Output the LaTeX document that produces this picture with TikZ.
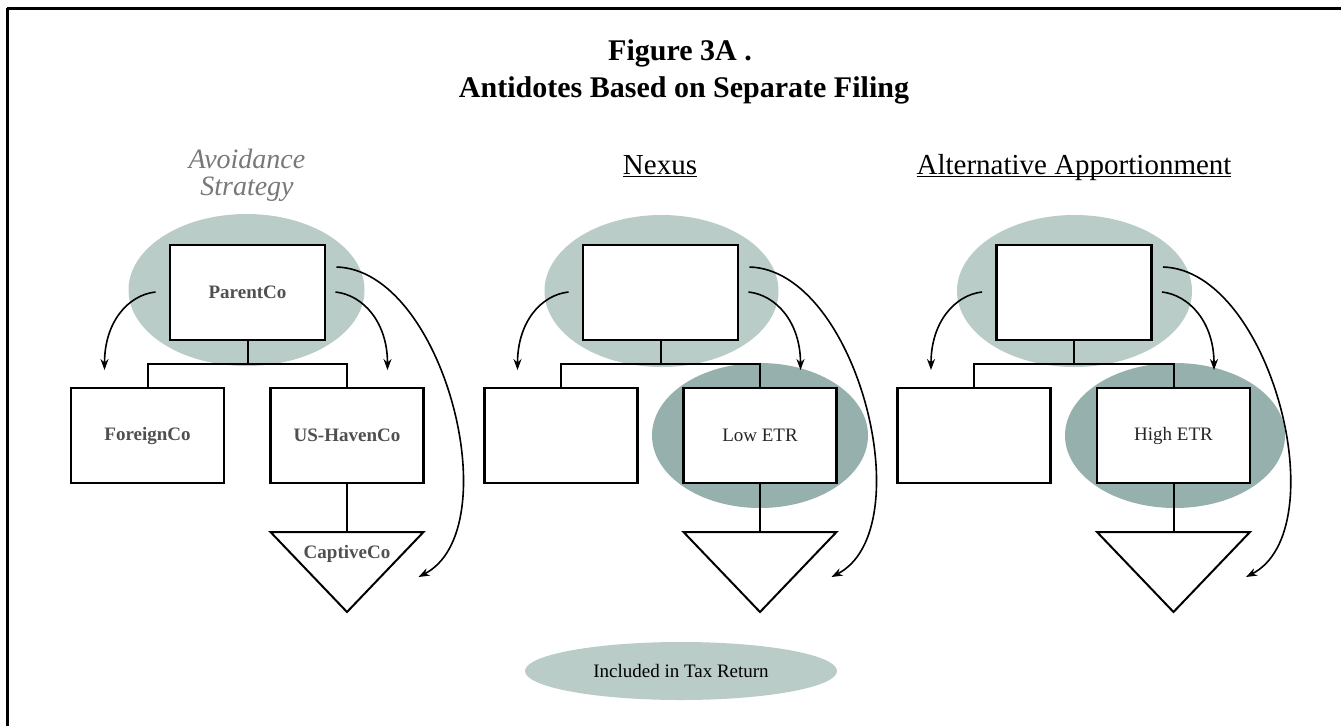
\documentclass[tikz,border=0pt]{standalone}
\usepackage{fontspec}
\setmainfont{Liberation Serif}
\usetikzlibrary{arrows.meta,shapes.geometric}
\definecolor{incl}{RGB}{186,204,199}
\definecolor{incldark}{RGB}{150,177,173}
\definecolor{lbl}{RGB}{80,80,80}
\definecolor{hdr}{RGB}{120,120,120}
\newcommand{\myul}[1]{\setbox0\hbox{#1}\rlap{\rule[-3pt]{\wd0}{1.5pt}}\box0}
\begin{document}
\begin{tikzpicture}[x=1pt,y=-1pt,
  frame/.style={line width=3pt, black},
  incl/.style={ellipse, fill=incl, inner sep=0pt},
  incldk/.style={ellipse, fill=incldark, inner sep=0pt},
  ent/.style={draw=black, line width=2.2pt, fill=white, minimum width=153pt, minimum height=95pt, inner sep=0pt, font=\fontsize{19}{22}\selectfont\bfseries, text=lbl},
  own/.style={draw=black, line width=2pt},
  tri/.style={draw=black, line width=2pt, fill=white},
  flow/.style={draw=black, line width=1.6pt, -{Stealth[length=11pt,width=8pt]}},
  head/.style={font=\fontsize{29}{32}\selectfont, anchor=base},
  avoid/.style={font=\fontsize{28}{30}\selectfont\itshape, text=hdr, anchor=base},
  ttl/.style={font=\fontsize{30}{34}\selectfont\bfseries, anchor=base}
]
\useasboundingbox (0,0) rectangle (1341,726);
\fill[white] (0,0) rectangle (1341,726);
% frame
\draw[frame] (7,8) -- (1341,8);
\draw[frame] (7,8) -- (7,726);

% titles
\node[ttl] (t1) at (680,60) {Figure 3A .};
\node[ttl] (t2) at (684,97) {Antidotes Based on Separate Filing};

% headers
\node[avoid] (hA1) at (247,168) {Avoidance};
\node[avoid] (hA2) at (247,195) {Strategy};
\node[head] (hB) at (660,174) {\myul{Nexus}};
\node[head] (hC) at (1074,174) {\myul{Alternative Apportionment}};

% inclusion ellipses
\node[incl, minimum width=236pt, minimum height=152pt] (eA) at (246.5,290) {};
\node[incl, minimum width=234pt, minimum height=152pt] (eB) at (661.5,291) {};
\node[incl, minimum width=235pt, minimum height=152pt] (eC) at (1074.5,291) {};
\node[incldk, minimum width=216pt, minimum height=145pt] (dB) at (760,435.5) {};
\node[incldk, minimum width=220pt, minimum height=145pt] (dC) at (1175,435.5) {};

% ===== Column A =====
\node[ent, minimum width=155pt] (pA) at (247.5,292.5) {ParentCo};
\node[ent] (fA) at (147.5,435.5) {ForeignCo};
\node[ent] (uA) at (347,435.5) {US-HavenCo};
\draw[own] (pA.south) -- ++(0,23) -| (fA.north);
\draw[own] (pA.south) -- ++(0,23) -| (uA.north);
\coordinate (tAa) at (270.5,532);
\coordinate (tAb) at (423.5,532);
\coordinate (tAc) at (347,612);
\draw[tri] (tAa) -- (tAb) -- (tAc) -- cycle;
\coordinate (tAn) at (347,532);
\draw[own] (uA.south) -- (tAn);
\node[font=\fontsize{19}{22}\selectfont\bfseries, text=lbl, anchor=base] (cA) at (347,558) {CaptiveCo};
\coordinate (aA1s) at (155.5,292); \coordinate (aA1e) at (104.5,370);
\coordinate (aA2s) at (335.5,292); \coordinate (aA2e) at (387.5,370);
\coordinate (aA3s) at (336.5,267); \coordinate (aA3e) at (418.5,577);
\draw[flow] (aA1s) .. controls (128,295) and (104.5,322) .. (aA1e);
\draw[flow] (aA2s) .. controls (363,295) and (387.5,322) .. (aA2e);
\draw[flow] (aA3s) .. controls (444.5,270) and (509.5,530) .. (aA3e);

% ===== Column B =====
\node[ent, minimum width=155pt] (pB) at (660.5,292.5) {};
\node[ent] (fB) at (561,435.5) {};
\node[ent, text=black!85, font=\fontsize{19}{22}\selectfont] (lB) at (760,435.5) {Low ETR};
\draw[own] (pB.south) -- ++(0,23) -| (fB.north);
\draw[own] (pB.south) -- ++(0,23) -| (lB.north);
\coordinate (tBa) at (683.5,532);
\coordinate (tBb) at (836.5,532);
\coordinate (tBc) at (760,612);
\draw[tri] (tBa) -- (tBb) -- (tBc) -- cycle;
\coordinate (tBn) at (760,532);
\draw[own] (lB.south) -- (tBn);
\coordinate (aB1s) at (568.5,292); \coordinate (aB1e) at (517.5,370);
\coordinate (aB2s) at (748.5,292); \coordinate (aB2e) at (800.5,370);
\coordinate (aB3s) at (749.5,267); \coordinate (aB3e) at (831.5,577);
\draw[flow] (aB1s) .. controls (541,295) and (517.5,322) .. (aB1e);
\draw[flow] (aB2s) .. controls (776,295) and (800.5,322) .. (aB2e);
\draw[flow] (aB3s) .. controls (857.5,270) and (922.5,530) .. (aB3e);

% ===== Column C =====
\node[ent, minimum width=155pt] (pC) at (1074,292.5) {};
\node[ent] (fC) at (974,435.5) {};
\node[ent, text=black!85, font=\fontsize{19}{22}\selectfont] (lC) at (1173.5,435.5) {High ETR};
\draw[own] (pC.south) -- ++(0,23) -| (fC.north);
\draw[own] (pC.south) -- ++(0,23) -| (lC.north);
\coordinate (tCa) at (1097,532);
\coordinate (tCb) at (1250,532);
\coordinate (tCc) at (1173.5,612);
\draw[tri] (tCa) -- (tCb) -- (tCc) -- cycle;
\coordinate (tCn) at (1173.5,532);
\draw[own] (lC.south) -- (tCn);
\coordinate (aC1s) at (982,292); \coordinate (aC1e) at (931,370);
\coordinate (aC2s) at (1162,292); \coordinate (aC2e) at (1214,370);
\coordinate (aC3s) at (1163,267); \coordinate (aC3e) at (1246,577);
\draw[flow] (aC1s) .. controls (955,295) and (931,322) .. (aC1e);
\draw[flow] (aC2s) .. controls (1189,295) and (1214,322) .. (aC2e);
\draw[flow] (aC3s) .. controls (1271,270) and (1337,530) .. (aC3e);

% legend
\node[incl, minimum width=312pt, minimum height=58pt, font=\fontsize{19}{22}\selectfont, text=black] (leg) at (681,671) {Included in Tax Return};
\end{tikzpicture}
\end{document}
